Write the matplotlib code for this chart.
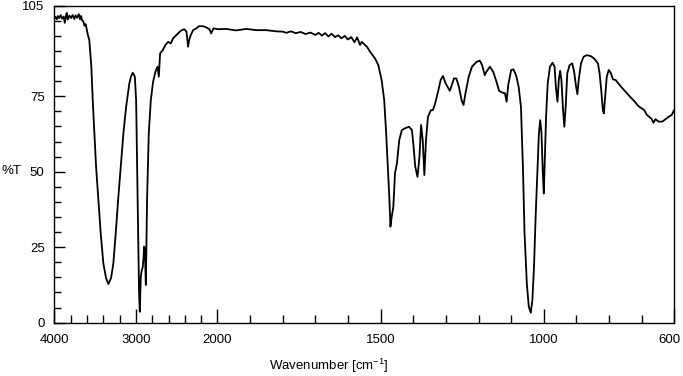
import numpy as np
import matplotlib
matplotlib.use("Agg")
import matplotlib.pyplot as plt
import matplotlib.transforms as mtransforms
from matplotlib.ticker import FixedLocator, NullFormatter

plt.rcParams["font.family"] = ["Liberation Sans", "DejaVu Sans"]
plt.rcParams["mathtext.fontset"] = "custom"
plt.rcParams["mathtext.rm"] = "Liberation Sans"
plt.rcParams["mathtext.it"] = "Liberation Sans"

# spectrum: wavenumber [cm-1] and %T
WAVENUMBER = [
    4000, 3985, 3970, 3955, 3940, 3920, 3905, 3885, 3872, 3860, 3848, 3835,
    3815, 3795, 3775, 3755, 3740, 3720, 3700, 3685, 3672, 3660, 3645, 3630,
    3615, 3600, 3590, 3571, 3546, 3529, 3509, 3488, 3460, 3431, 3399, 3366,
    3337, 3304, 3276, 3247, 3218, 3185, 3153, 3120, 3080, 3060, 3038, 3013,
    2997, 2985, 2973, 2961, 2952, 2940, 2932, 2915, 2905, 2899, 2890, 2878,
    2863, 2842, 2817, 2789, 2761, 2736, 2719, 2703, 2670, 2638, 2605, 2572,
    2544, 2503, 2449, 2409, 2380, 2360, 2347, 2327, 2298, 2258, 2228, 2175,
    2139, 2098, 2077, 2049, 1999, 1973, 1943, 1912, 1881, 1851, 1820, 1800,
    1789, 1775, 1760, 1745, 1730, 1715, 1700, 1690, 1680, 1670, 1660, 1650,
    1640, 1630, 1620, 1610, 1600, 1590, 1580, 1572, 1563, 1558, 1553, 1542,
    1532, 1517, 1507, 1497, 1489, 1483, 1478, 1473, 1470, 1466, 1461, 1456,
    1450, 1443, 1435, 1425, 1413, 1404, 1399, 1394, 1387, 1381, 1376, 1371,
    1366, 1361, 1355, 1346, 1340, 1333, 1323, 1316, 1309, 1301, 1288, 1275,
    1268, 1260, 1252, 1246, 1240, 1230, 1220, 1206, 1196, 1189, 1181, 1176,
    1165, 1155, 1145, 1137, 1127, 1119, 1114, 1109, 1100, 1093, 1085, 1077,
    1070, 1064, 1059, 1052, 1046, 1040, 1035, 1030, 1025, 1019, 1015, 1011,
    1007, 1003, 1000, 997, 993, 988, 981, 973, 967, 963, 958, 954,
    950, 946, 941, 937, 933, 928, 921, 913, 907, 901, 897, 893,
    886, 878, 868, 856, 846, 838, 834, 829, 824, 819, 816, 811,
    807, 801, 795, 788, 780, 772, 762, 752, 742, 731, 721, 711,
    700, 692, 684, 677, 669, 664, 658, 648, 637, 627, 617, 608,
    601, 600,
]
TRANSMITTANCE = [
    100.8, 101.3, 100.5, 101.6, 100.9, 101.9, 100.7, 101.4, 99.3, 101.2, 102.6, 100.4,
    101.7, 100.9, 101.9, 100.6, 101.8, 101.0, 102.2, 100.5, 101.6, 100.2, 99.8, 98.3,
    98.9, 96.8, 95.5, 93.6, 84.8, 73.7, 62.7, 51.7, 40.6, 29.6, 19.7, 14.8,
    12.8, 14.8, 19.7, 29.6, 40.6, 51.6, 62.7, 71.4, 79.3, 81.5, 82.8, 81.5,
    73.7, 51.7, 29.6, 9.8, 3.6, 15.2, 16.9, 18.5, 22.0, 25.2, 24.5, 12.5,
    40.6, 62.7, 73.7, 79.8, 83.1, 84.8, 81.5, 89.2, 90.3, 92.0, 93.0, 92.5,
    94.2, 95.3, 96.7, 97.2, 96.4, 91.4, 93.6, 95.3, 96.9, 97.5, 98.2, 98.2,
    97.8, 97.2, 95.8, 97.5, 97.2, 97.3, 96.8, 97.3, 96.9, 96.9, 96.5, 96.4,
    96.0, 96.5, 95.9, 96.3, 95.6, 96.1, 95.3, 96.0, 95.1, 95.9, 94.8, 95.7,
    94.6, 95.2, 94.2, 95.0, 93.8, 94.6, 92.9, 94.5, 92.0, 93.0, 92.5, 91.4,
    89.7, 87.5, 85.3, 80.4, 73.7, 62.7, 51.7, 40.6, 31.8, 35.1, 38.4, 49.5,
    52.8, 60.5, 63.8, 64.4, 64.9, 63.8, 58.3, 51.7, 48.3, 55.0, 65.5, 60.5,
    48.9, 60.5, 68.2, 70.4, 70.4, 72.6, 77.0, 80.4, 81.7, 79.3, 76.8, 80.9,
    80.9, 78.1, 73.7, 72.1, 76.0, 81.5, 84.8, 86.4, 86.8, 85.3, 82.0, 83.1,
    84.8, 83.1, 79.8, 76.8, 76.2, 76.0, 73.2, 78.7, 83.7, 83.9, 82.0, 78.1,
    71.5, 51.7, 29.6, 13.0, 5.3, 3.3, 7.5, 18.5, 35.1, 51.7, 62.7, 67.1,
    62.7, 49.5, 42.8, 53.9, 68.2, 79.3, 84.8, 86.1, 84.8, 78.1, 73.2, 80.4,
    83.4, 80.4, 70.4, 64.9, 71.5, 82.6, 85.3, 85.9, 83.1, 78.1, 75.7, 80.4,
    85.9, 88.1, 88.6, 88.3, 87.5, 86.4, 85.9, 82.6, 77.0, 70.4, 69.3, 76.0,
    81.5, 83.7, 82.8, 80.6, 80.4, 79.3, 78.0, 76.8, 75.6, 74.3, 73.2, 71.8,
    71.0, 70.4, 68.8, 68.2, 67.4, 66.2, 67.4, 66.6, 66.6, 67.4, 68.2, 68.8,
    70.4, 70.0,
]

X_LABELED = [4000, 3000, 2000, 1500, 1000, 600]
X_MINOR = list(range(3800, 2000, -200)) + list(range(1900, 600, -100))
Y_LABELED = [0, 25, 50, 75, 105]
Y_MINOR = list(range(5, 105, 5))


# the axis is compressed 4x above 2000 cm-1
def fwd(x):
    x = np.asarray(x, dtype=float)
    return np.where(x > 2000, 2000 + (x - 2000) / 4.0, x)


def inv(y):
    y = np.asarray(y, dtype=float)
    return np.where(y > 2000, 2000 + (y - 2000) * 4.0, y)


fig = plt.figure(figsize=(6.83, 3.76), dpi=100)
ax = fig.add_axes([0.0795, 0.1418, 0.9078, 0.8431])

ax.plot(WAVENUMBER, TRANSMITTANCE, color="black", linewidth=1.3,
        solid_joinstyle="round")

ax.set_xscale("function", functions=(fwd, inv))
ax.set_xlim(4000, 600)
ax.set_ylim(0, 105)

ax.xaxis.set_major_locator(FixedLocator(X_LABELED))
ax.xaxis.set_minor_locator(FixedLocator(X_MINOR))
ax.xaxis.set_minor_formatter(NullFormatter())
ax.set_xticklabels([str(v) for v in X_LABELED])
ax.yaxis.set_major_locator(FixedLocator(Y_LABELED))
ax.yaxis.set_minor_locator(FixedLocator(Y_MINOR))
ax.set_yticklabels([str(v) for v in Y_LABELED])

ax.tick_params(axis="x", which="major", direction="in", length=10, width=1,
               pad=8, labelsize=9.5)
ax.tick_params(axis="x", which="minor", direction="in", length=6, width=1)
ax.tick_params(axis="y", which="major", direction="in", length=8, width=1,
               pad=7, labelsize=9.5)
ax.tick_params(axis="y", which="minor", direction="in", length=5, width=1)

# keep the "600" label inside the figure edge
last = ax.get_xticklabels()[-1]
last.set_horizontalalignment("right")
last.set_transform(last.get_transform() +
                   mtransforms.ScaledTranslation(6 / 100, 0, fig.dpi_scale_trans))

for sp in ax.spines.values():
    sp.set_linewidth(1.0)

fig.text(2 / 683, 1 - 171 / 376, "%T", ha="left", va="center", fontsize=9.5)
fig.text(329 / 683, 0.027, r"Wavenumber [cm$^{-1}$]", ha="center",
         va="center", fontsize=9.5)

fig.savefig("out.png", dpi=100, facecolor="white")
